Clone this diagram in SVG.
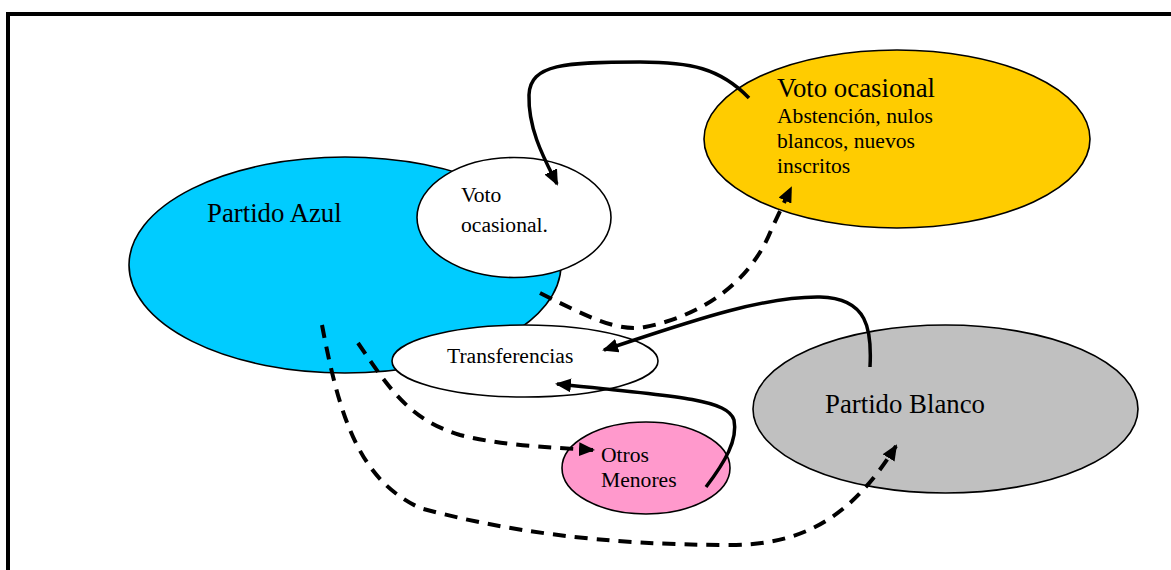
<svg xmlns="http://www.w3.org/2000/svg" width="1171" height="570" viewBox="0 0 1171 570">
<defs>
<style>
.node{stroke:#000;stroke-width:1.6}
.t{font-family:"Liberation Serif","Times New Roman",serif;fill:#000}
.big{font-size:26.8px}
.sm{font-size:21.6px}
.c{fill:none;stroke:#000;stroke-linecap:butt}
.solid{stroke-width:3.5}
.dash{stroke-width:4;stroke-dasharray:13 9}
</style>
<marker id="ah" viewBox="0 0 16 14" refX="14" refY="7" markerWidth="16" markerHeight="14" markerUnits="userSpaceOnUse" orient="auto">
<path d="M0,0 L16,7 L0,14 z" fill="#000"/>
</marker>
</defs>
<rect width="1171" height="570" fill="#fff"/>
<path d="M8,570 V14 H1171" fill="none" stroke="#000" stroke-width="4"/>

<g id="partido-azul">
<ellipse class="node" cx="345" cy="265" rx="216" ry="108" fill="#00CCFF"/>
<text class="t big" x="207" y="222">Partido Azul</text>
</g>
<g id="voto-ocasional-small">
<ellipse class="node" cx="514" cy="217.5" rx="97" ry="60" fill="#fff"/>
<text class="t sm" x="461" y="202">Voto</text>
<text class="t sm" x="461" y="232">ocasional.</text>
</g>
<g id="transferencias">
<ellipse class="node" cx="525" cy="361" rx="133" ry="36" fill="#fff"/>
<text class="t sm" x="447" y="363">Transferencias</text>
</g>
<g id="voto-ocasional">
<ellipse class="node" cx="897" cy="139" rx="193" ry="89" fill="#FFCC00"/>
<text class="t big" x="777" y="97">Voto ocasional</text>
<text class="t sm" x="777" y="123">Abstención, nulos</text>
<text class="t sm" x="777" y="148">blancos, nuevos</text>
<text class="t sm" x="777" y="173">inscritos</text>
</g>
<g id="partido-blanco">
<ellipse class="node" cx="945.5" cy="409" rx="192.5" ry="84" fill="#C0C0C0"/>
<text class="t big" x="825" y="413">Partido Blanco</text>
</g>
<g id="otros-menores">
<ellipse class="node" cx="646" cy="468" rx="84" ry="46" fill="#FF99CC"/>
<text class="t sm" x="601" y="462">Otros</text>
<text class="t sm" x="601" y="487">Menores</text>
</g>

<g id="connectors">
<path class="c solid" stroke-width="4" d="M749,98 C720,68 690,62 640,62 C565,62 530,64 529,95 C528,130 545,160 557,184" marker-end="url(#ah)"/>
<path class="c dash" d="M540,293 C590,318 618,332 645,327 C705,315 752,280 772,228 L791,188" marker-end="url(#ah)"/>
<path class="c solid" stroke-width="3" d="M870,367 C872,330 868,298 820,297 C760,296 680,325 604,350" marker-end="url(#ah)"/>
<path class="c solid" stroke-width="3" d="M706,487 C725,462 738,440 734,420 C728,400 680,396 557,384" marker-end="url(#ah)"/>
<path class="c dash" d="M322,325 C340,420 360,480 420,508 C500,530 600,545 730,545 C800,545 850,520 896,446" marker-end="url(#ah)"/>
<path class="c dash" d="M358,343 C390,390 410,420 460,435 C500,445 540,447 593,450" marker-end="url(#ah)"/>
</g>
</svg>
